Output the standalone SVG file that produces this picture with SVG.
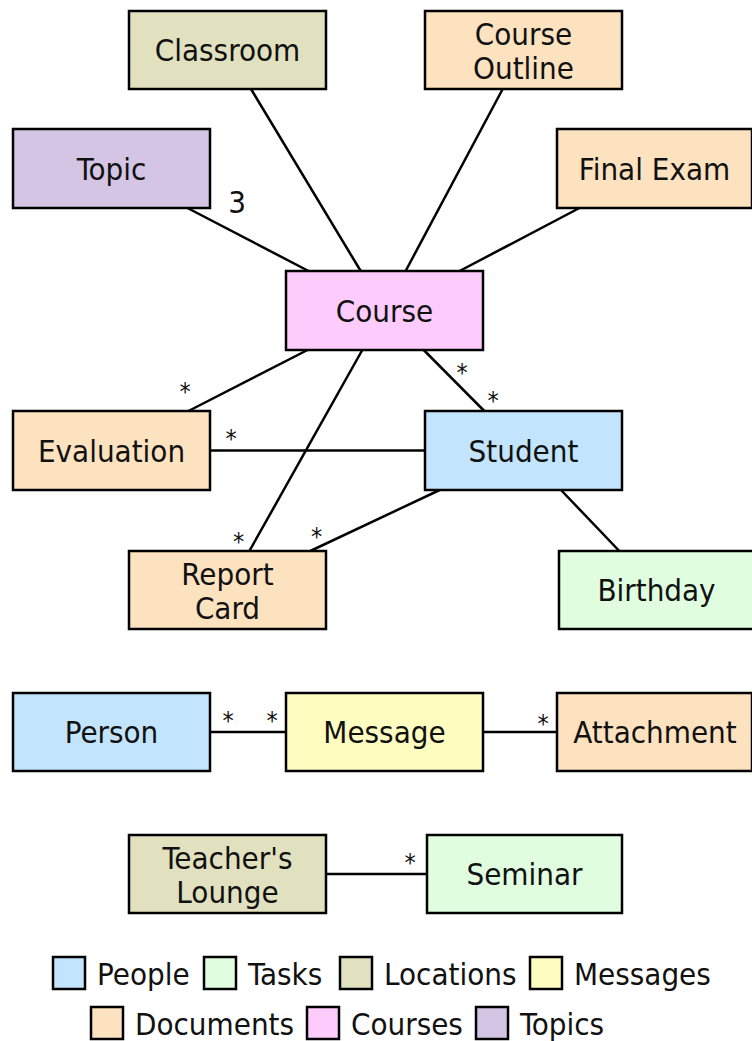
<svg xmlns="http://www.w3.org/2000/svg" width="752" height="1041" viewBox="0 0 752 1041">
  <style>
    .box { stroke: #000; stroke-width: 2.5; }
    .lbl { font-family: "DejaVu Sans Condensed", "DejaVu Sans", sans-serif; font-size: 31px; fill: #111; text-anchor: middle; }
    .leg { font-family: "DejaVu Sans Condensed", "DejaVu Sans", sans-serif; font-size: 31px; fill: #111; }
    .mult { font-family: "DejaVu Sans Condensed", "DejaVu Sans", sans-serif; font-size: 25px; fill: #111; text-anchor: middle; }
    .num { font-family: "DejaVu Sans Condensed", "DejaVu Sans", sans-serif; font-size: 31px; fill: #111; text-anchor: middle; }
    .edge { stroke: #000; stroke-width: 2.5; fill: none; }
    .people { fill: #c2e4fd; }
    .tasks { fill: #e0fde0; }
    .locations { fill: #e1e1c0; }
    .messages { fill: #fffdc0; }
    .documents { fill: #fde2c0; }
    .courses { fill: #fdccfd; }
    .topics { fill: #d5c5e5; }
  </style>
  <rect width="752" height="1041" fill="#fff"/>

  <!-- associations -->
  <g id="connectors">
    <line class="edge" x1="187.5" y1="208" x2="308.5" y2="271"/>
    <line class="edge" x1="251" y1="89" x2="360.7" y2="271"/>
    <line class="edge" x1="502.7" y1="89" x2="405.6" y2="271"/>
    <line class="edge" x1="579.4" y1="208" x2="459.6" y2="271"/>
    <line class="edge" x1="307.5" y1="350" x2="188.5" y2="411"/>
    <line class="edge" x1="362.3" y1="350" x2="249.4" y2="551"/>
    <line class="edge" x1="423.7" y1="350" x2="484.3" y2="411"/>
    <line class="edge" x1="210" y1="450.5" x2="425" y2="450.5"/>
    <line class="edge" x1="439.7" y1="490" x2="310.3" y2="551"/>
    <line class="edge" x1="561" y1="490" x2="619.3" y2="551"/>
    <line class="edge" x1="210" y1="732" x2="286" y2="732"/>
    <line class="edge" x1="483" y1="732" x2="557" y2="732"/>
    <line class="edge" x1="326" y1="874" x2="427" y2="874"/>

    <!-- multiplicities -->
    <text class="num" x="237" y="213">3</text>
    <text class="mult" x="185" y="400">*</text>
    <text class="mult" x="462" y="381">*</text>
    <text class="mult" x="493" y="409">*</text>
    <text class="mult" x="231" y="447">*</text>
    <text class="mult" x="238.5" y="550">*</text>
    <text class="mult" x="316.5" y="545">*</text>
    <text class="mult" x="228" y="729">*</text>
    <text class="mult" x="272" y="729">*</text>
    <text class="mult" x="543" y="732">*</text>
    <text class="mult" x="410" y="871">*</text>
  </g>

  <!-- classes -->
  <g id="classroom">
    <rect class="box locations" x="129" y="11" width="197" height="78"/>
    <text class="lbl" x="227.5" y="61">Classroom</text>
  </g>
  <g id="course-outline">
    <rect class="box documents" x="425" y="11" width="197" height="78"/>
    <text class="lbl" x="523.5" y="45">Course</text>
    <text class="lbl" x="523.5" y="79">Outline</text>
  </g>
  <g id="topic">
    <rect class="box topics" x="13" y="129" width="197" height="79"/>
    <text class="lbl" x="111.5" y="179.5">Topic</text>
  </g>
  <g id="final-exam">
    <rect class="box documents" x="557" y="129" width="195" height="79"/>
    <text class="lbl" x="654.5" y="179.5">Final Exam</text>
  </g>
  <g id="course">
    <rect class="box courses" x="286" y="271" width="197" height="79"/>
    <text class="lbl" x="384.5" y="321.5">Course</text>
  </g>
  <g id="evaluation">
    <rect class="box documents" x="13" y="411" width="197" height="79"/>
    <text class="lbl" x="111.5" y="461.5">Evaluation</text>
  </g>
  <g id="student">
    <rect class="box people" x="425" y="411" width="197" height="79"/>
    <text class="lbl" x="523.5" y="461.5">Student</text>
  </g>
  <g id="report-card">
    <rect class="box documents" x="129" y="551" width="197" height="78"/>
    <text class="lbl" x="227.5" y="585">Report</text>
    <text class="lbl" x="227.5" y="619">Card</text>
  </g>
  <g id="birthday">
    <rect class="box tasks" x="559" y="551" width="195" height="78"/>
    <text class="lbl" x="656.5" y="601">Birthday</text>
  </g>
  <g id="person">
    <rect class="box people" x="13" y="693" width="197" height="78"/>
    <text class="lbl" x="111.5" y="743">Person</text>
  </g>
  <g id="message">
    <rect class="box messages" x="286" y="693" width="197" height="78"/>
    <text class="lbl" x="384.5" y="743">Message</text>
  </g>
  <g id="attachment">
    <rect class="box documents" x="557" y="693" width="195" height="78"/>
    <text class="lbl" x="655" y="743">Attachment</text>
  </g>
  <g id="teachers-lounge">
    <rect class="box locations" x="129" y="835" width="197" height="78"/>
    <text class="lbl" x="227.5" y="869">Teacher's</text>
    <text class="lbl" x="227.5" y="903">Lounge</text>
  </g>
  <g id="seminar">
    <rect class="box tasks" x="427" y="835" width="195" height="78"/>
    <text class="lbl" x="524.5" y="885">Seminar</text>
  </g>

  <!-- legend -->
  <g id="legend">
    <rect class="box people" x="53" y="957" width="32" height="32"/>
    <text class="leg" x="97" y="985">People</text>
    <rect class="box tasks" x="204" y="957" width="32" height="32"/>
    <text class="leg" x="248" y="985">Tasks</text>
    <rect class="box locations" x="340" y="957" width="32" height="32"/>
    <text class="leg" x="384" y="985">Locations</text>
    <rect class="box messages" x="530" y="957" width="32" height="32"/>
    <text class="leg" x="574" y="985">Messages</text>

    <rect class="box documents" x="91" y="1007" width="32" height="32"/>
    <text class="leg" x="135" y="1035">Documents</text>
    <rect class="box courses" x="307" y="1007" width="32" height="32"/>
    <text class="leg" x="351" y="1035">Courses</text>
    <rect class="box topics" x="476" y="1007" width="32" height="32"/>
    <text class="leg" x="520" y="1035">Topics</text>
  </g>
</svg>
